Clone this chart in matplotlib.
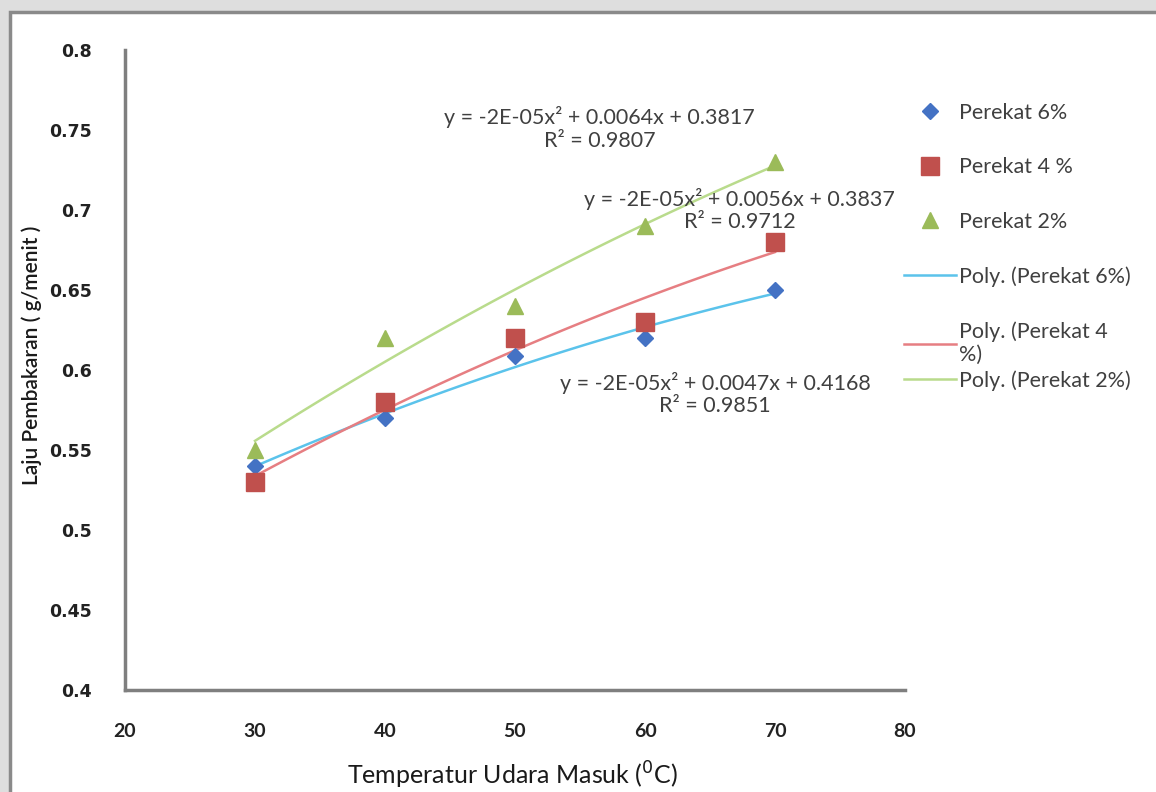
import matplotlib.pyplot as plt
import matplotlib.patches as mpatches
import numpy as np

temps = [30, 40, 50, 60, 70]
perekat_6 = [0.54, 0.57, 0.609, 0.62, 0.65]
perekat_4 = [0.53, 0.58, 0.62, 0.63, 0.68]
perekat_2 = [0.55, 0.62, 0.64, 0.69, 0.73]

series_names = ['Perekat 6%', 'Perekat 4 %', 'Perekat 2%']
trend_names = ['Poly. (Perekat 6%)', 'Poly. (Perekat 4\n%)', 'Poly. (Perekat 2%)']
equations = ['y = -2E-05x² + 0.0047x + 0.4168\nR² = 0.9851',
             'y = -2E-05x² + 0.0056x + 0.3837\nR² = 0.9712',
             'y = -2E-05x² + 0.0064x + 0.3817\nR² = 0.9807']
x_ticks = [20, 30, 40, 50, 60, 70, 80]
y_ticks = [0.4, 0.45, 0.5, 0.55, 0.6, 0.65, 0.7, 0.75, 0.8]

plt.rcParams['font.family'] = ['Lato', 'DejaVu Sans']

fig = plt.figure(figsize=(11.56, 7.92), dpi=100, facecolor='#dedede')

# white chart area with grey frame, drawn in a background axes
bg = fig.add_axes([0, 0, 1, 1], zorder=0)
bg.set_axis_off()
bg.add_patch(mpatches.Rectangle((10 / 1156, -0.05), 1.2, (792 - 12) / 792 + 0.05,
                                transform=bg.transAxes, facecolor='white',
                                edgecolor='#8a8a8a', lw=2.5, clip_on=False))

ax = fig.add_axes([125 / 1156, 102 / 792, 780 / 1156, 640 / 792], zorder=2)
ax.set_facecolor('none')

marker_cols = ['#4472C4', '#C0504D', '#9BBB59']
trend_cols = ['#5BC3EB', '#E67E82', '#B9DB8C']
markers = ['D', 's', '^']
msizes = [8, 13, 12]
data = [perekat_6, perekat_4, perekat_2]

xs = np.linspace(30, 70, 100)
handles_m, handles_t = [], []
for vals, name, col, mk, ms in zip(data, series_names, marker_cols, markers, msizes):
    h, = ax.plot(temps, vals, ls='none', marker=mk, ms=ms, color=col, label=name, zorder=3)
    handles_m.append(h)
for vals, name, col in zip(data, trend_names, trend_cols):
    coef = np.polyfit(temps, vals, 2)
    h, = ax.plot(xs, np.polyval(coef, xs), color=col, lw=1.8, label=name, zorder=2)
    handles_t.append(h)

eq_pos = [(65.4, 0.585), (67.3, 0.7), (56.5, 0.751)]
for (ex, ey), txt in zip(eq_pos, equations):
    ax.text(ex, ey, txt, ha='center', va='center', fontsize=15.5, color='#404040',
            linespacing=1.15)

ax.set_xlim(20, 80)
ax.set_ylim(0.4, 0.8)
ax.set_xticks(x_ticks)
ax.set_yticks(y_ticks)
ax.set_xticklabels([str(t) for t in x_ticks])
ax.set_yticklabels([f'{t:g}' for t in y_ticks])
ax.tick_params(length=0, labelsize=14, colors='#222222')
ax.tick_params(axis='x', pad=24)
ax.tick_params(axis='y', pad=24)
for lb in ax.get_xticklabels():
    lb.set_fontweight('bold')
for lb in ax.get_yticklabels():
    lb.set_fontweight('bold')
    lb.set_family('DejaVu Sans')
    lb.set_fontsize(12.5)
for s in ['top', 'right']:
    ax.spines[s].set_visible(False)
for s in ['left', 'bottom']:
    ax.spines[s].set_color('#7f7f7f')
    ax.spines[s].set_linewidth(2.5)

fig.text(512 / 1156, 1 - 775 / 792, 'Temperatur Udara Masuk ($^0$C)', fontsize=18,
         color='#1a1a1a', ha='center', va='center')
fig.text(32 / 1156, 1 - 355 / 792, 'Laju Pembakaran ( g/menit )', fontsize=15,
         color='#1a1a1a', ha='center', va='center', rotation=90, fontweight='semibold')

# legend: first five entries, then the last one placed tighter like the reference
all_h = handles_m + handles_t
all_l = series_names + trend_names
leg_kw = dict(frameon=False, fontsize=15.5, labelcolor='#404040', handlelength=2.4,
              handletextpad=0.15, labelspacing=1.6, numpoints=1, borderaxespad=0,
              borderpad=0)
leg1 = fig.legend(all_h[:5], all_l[:5], loc='upper left',
                  bbox_to_anchor=(904 / 1156, 1 - 103 / 792), **leg_kw)
leg2 = fig.legend(all_h[5:], all_l[5:], loc='upper left',
                  bbox_to_anchor=(904 / 1156, 1 - 370 / 792), **leg_kw)

fig.savefig('out.png', dpi=100, facecolor=fig.get_facecolor())
